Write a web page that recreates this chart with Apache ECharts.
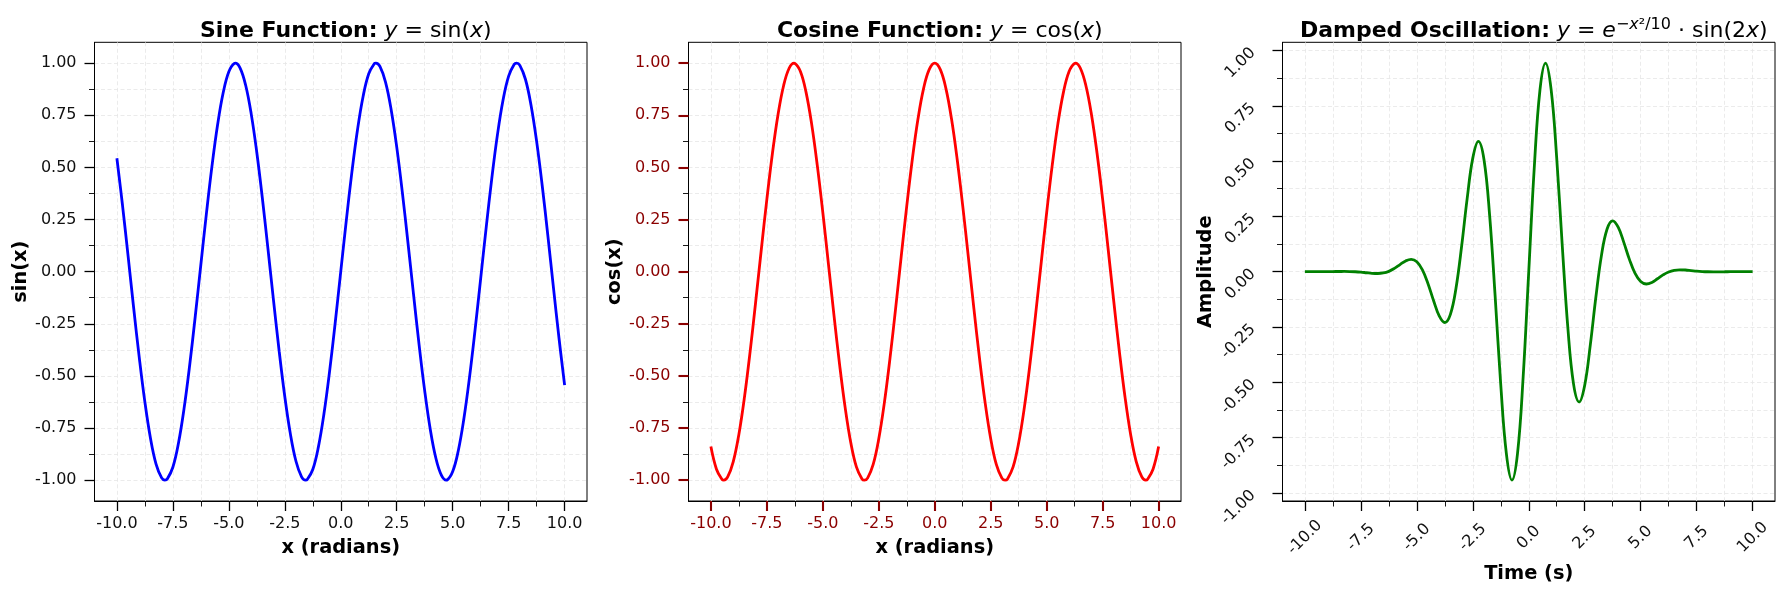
<!DOCTYPE html>
<html><head><meta charset="utf-8">
<script src="https://cdn.jsdelivr.net/npm/echarts@6/dist/echarts.min.js"></script>
<style>html,body{margin:0;padding:0;background:#fff}#c{width:1784px;height:595px}</style>
</head><body><div id="c"></div>
<script>
// ---- data ----
const sinX = [-10,-9.75,-9.5,-9.25,-9,-8.75,-8.5,-8.25,-8,-7.854,-7.75,-7.5,-7.25,-7,-6.75,-6.5,-6.25,-6,-5.75,-5.5,-5.25,-5,-4.75,-4.7124,-4.5,-4.25,-4,-3.75,-3.5,-3.25,-3,-2.75,-2.5,-2.25,-2,-1.75,-1.5708,-1.5,-1.25,-1,-0.75,-0.5,-0.25,0,0.25,0.5,0.75,1,1.25,1.5,1.5708,1.75,2,2.25,2.5,2.75,3,3.25,3.5,3.75,4,4.25,4.5,4.7124,4.75,5,5.25,5.5,5.75,6,6.25,6.5,6.75,7,7.25,7.5,7.75,7.854,8,8.25,8.5,8.75,9,9.25,9.5,9.75,10];
const sinY = [0.5440,0.3195,0.0752,-0.1743,-0.4121,-0.6247,-0.7985,-0.9228,-0.9894,-1,-0.9946,-0.9380,-0.8231,-0.6570,-0.4500,-0.2151,0.0332,0.2794,0.5083,0.7055,0.8589,0.9589,0.9993,1,0.9775,0.8950,0.7568,0.5716,0.3508,0.1082,-0.1411,-0.3817,-0.5985,-0.7781,-0.9093,-0.9840,-1,-0.9975,-0.9490,-0.8415,-0.6816,-0.4794,-0.2474,0,0.2474,0.4794,0.6816,0.8415,0.9490,0.9975,1,0.9840,0.9093,0.7781,0.5985,0.3817,0.1411,-0.1082,-0.3508,-0.5716,-0.7568,-0.8950,-0.9775,-1,-0.9993,-0.9589,-0.8589,-0.7055,-0.5083,-0.2794,-0.0332,0.2151,0.4500,0.6570,0.8231,0.9380,0.9946,1,0.9894,0.9228,0.7985,0.6247,0.4121,0.1743,-0.0752,-0.3195,-0.5440];
const cosX = [-10,-9.75,-9.5,-9.4248,-9.25,-9,-8.75,-8.5,-8.25,-8,-7.75,-7.5,-7.25,-7,-6.75,-6.5,-6.2832,-6.25,-6,-5.75,-5.5,-5.25,-5,-4.75,-4.5,-4.25,-4,-3.75,-3.5,-3.25,-3.1416,-3,-2.75,-2.5,-2.25,-2,-1.75,-1.5,-1.25,-1,-0.75,-0.5,-0.25,0,0.25,0.5,0.75,1,1.25,1.5,1.75,2,2.25,2.5,2.75,3,3.1416,3.25,3.5,3.75,4,4.25,4.5,4.75,5,5.25,5.5,5.75,6,6.25,6.2832,6.5,6.75,7,7.25,7.5,7.75,8,8.25,8.5,8.75,9,9.25,9.4248,9.5,9.75,10];
const cosY = [-0.8391,-0.9476,-0.9972,-1,-0.9848,-0.9111,-0.7807,-0.6020,-0.3857,-0.1455,0.1038,0.3466,0.5679,0.7539,0.8930,0.9766,1,0.9994,0.9602,0.8612,0.7087,0.5121,0.2837,0.0376,-0.2108,-0.4461,-0.6536,-0.8206,-0.9365,-0.9941,-1,-0.9900,-0.9243,-0.8011,-0.6282,-0.4161,-0.1782,0.0707,0.3153,0.5403,0.7317,0.8776,0.9689,1,0.9689,0.8776,0.7317,0.5403,0.3153,0.0707,-0.1782,-0.4161,-0.6282,-0.8011,-0.9243,-0.9900,-1,-0.9941,-0.9365,-0.8206,-0.6536,-0.4461,-0.2108,0.0376,0.2837,0.5121,0.7087,0.8612,0.9602,0.9994,1,0.9766,0.8930,0.7539,0.5679,0.3466,0.1038,-0.1455,-0.3857,-0.6020,-0.7807,-0.9111,-0.9848,-1,-0.9972,-0.9476,-0.8391];
const dampedX = [-10,-9.75,-9.5,-9.25,-9,-8.75,-8.5,-8.25,-8,-7.75,-7.5,-7.25,-7,-6.75,-6.5,-6.25,-6,-5.75,-5.5,-5.25,-5,-4.75,-4.5,-4.25,-4,-3.75,-3.5,-3.25,-3,-2.75,-2.5,-2.25,-2,-1.75,-1.5,-1.25,-1,-0.75,-0.5,-0.25,0,0.25,0.5,0.75,1,1.25,1.5,1.75,2,2.25,2.5,2.75,3,3.25,3.5,3.75,4,4.25,4.5,4.75,5,5.25,5.5,5.75,6,6.25,6.5,6.75,7,7.25,7.5,7.75,8,8.25,8.5,8.75,9,9.25,9.5,9.75,10];
const dampedY = [0,0,0,0.0001,0.0002,0.0005,0.0007,0.0008,0.0005,-0.0005,-0.0023,-0.0049,-0.0074,-0.0084,-0.0061,0.0013,0.0147,0.0321,0.0486,0.0559,0.0447,0.0079,-0.0544,-0.1312,-0.1998,-0.2299,-0.1930,-0.0748,0.1136,0.3312,0.5133,0.5892,0.5073,0.2582,-0.1127,-0.5119,-0.8228,-0.9429,-0.8207,-0.4764,0,0.4764,0.8207,0.9429,0.8228,0.5119,0.1127,-0.2582,-0.5073,-0.5892,-0.5133,-0.3312,-0.1136,0.0748,0.1930,0.2299,0.1998,0.1312,0.0544,-0.0079,-0.0447,-0.0559,-0.0486,-0.0321,-0.0147,-0.0013,0.0061,0.0084,0.0074,0.0049,0.0023,0.0005,-0.0005,-0.0008,-0.0007,-0.0005,-0.0002,-0.0001,0,0,0];
const xTickValues = [-10,-7.5,-5,-2.5,0,2.5,5,7.5,10];
const xMinorValues = [-8.75,-6.25,-3.75,-1.25,1.25,3.75,6.25,8.75];
const yTickValues = [-1,-0.75,-0.5,-0.25,0,0.25,0.5,0.75,1];
const yMinorValues = [-0.875,-0.625,-0.375,-0.125,0.125,0.375,0.625,0.875];
const titleBold = ['Sine Function:', 'Cosine Function:', 'Damped Oscillation:'];
const xNames = ['x (radians)', 'x (radians)', 'Time (s)'];
const yNames = ['sin(x)', 'cos(x)', 'Amplitude'];
const lineColors = ['#0000ff', '#ff0000', '#008000'];

// ---- chart ----
const FONT = 'DejaVu Sans';
const chart = echarts.init(document.getElementById('c'), null, {renderer: 'canvas'});
const rects = [
  {left: 94.5, top: 42.3, width: 492.5, height: 458.7},
  {left: 688.5, top: 42.3, width: 492.5, height: 458.7},
  {left: 1282.5, top: 42.3, width: 492.5, height: 458.7}
];
const yRanges = [[-1.1, 1.1], [-1.1, 1.1], [-1.037, 1.037]];
const cfg = [
  {labelColor: '#111', tickColor: '#000', tickWidth: 1.3, rot: 0},
  {labelColor: '#8b0000', tickColor: '#8b0000', tickWidth: 2.1, rot: 0},
  {labelColor: '#111', tickColor: '#000', tickWidth: 1.3, rot: 45}
];
const gridLine = {show: true, lineStyle: {color: '#e6e6e6', type: [4, 2.5], width: 0.8}};
const nameStyle = {fontFamily: FONT, fontWeight: 'bold', fontSize: 19.4, color: '#000'};

const grid = [], xAxis = [], yAxis = [], series = [], title = [];
for (let i = 0; i < 3; i++) {
  grid.push(Object.assign({show: true, borderColor: '#000', borderWidth: 1, backgroundColor: 'transparent', containLabel: false}, rects[i]));
}
for (let i = 0; i < 3; i++) {
  grid.push(Object.assign({show: false}, rects[i]));
}
for (let i = 0; i < 3; i++) {
  const c = cfg[i];
  xAxis.push({
    type: 'value', gridIndex: i, min: -11, max: 11, position: 'bottom',
    axisLine: {show: true, onZero: false, lineStyle: {color: '#000', width: 1}},
    axisTick: {show: true, customValues: xTickValues, length: 10, lineStyle: {color: c.tickColor, width: c.tickWidth}},
    axisLabel: c.rot ? {
      show: true, customValues: xTickValues, formatter: v => v.toFixed(1), color: c.labelColor,
      fontFamily: FONT, fontSize: 16, rotate: 45, align: 'center', verticalAlign: 'middle', margin: 36.5
    } : {
      show: true, customValues: xTickValues, formatter: v => v.toFixed(1), color: c.labelColor,
      fontFamily: FONT, fontSize: 16, margin: 15
    },
    splitLine: gridLine,
    name: xNames[i], nameLocation: 'middle', nameGap: i === 2 ? 63 : 37, nameTextStyle: nameStyle
  });
  yAxis.push({
    type: 'value', gridIndex: i, min: yRanges[i][0], max: yRanges[i][1], position: 'left',
    axisLine: {show: true, onZero: false, lineStyle: {color: '#000', width: 1}},
    axisTick: {show: true, customValues: yTickValues, length: 10, lineStyle: {color: c.tickColor, width: c.tickWidth}},
    axisLabel: c.rot ? {
      show: true, customValues: yTickValues, formatter: v => v.toFixed(2), color: c.labelColor,
      fontFamily: FONT, fontSize: 16, rotate: 45, align: 'right', verticalAlign: 'middle', margin: 29.5,
      padding: [10, 0, 0, 0]
    } : {
      show: true, customValues: yTickValues, formatter: v => v.toFixed(2), color: c.labelColor,
      fontFamily: FONT, fontSize: 16, margin: 18
    },
    splitLine: gridLine,
    name: yNames[i], nameLocation: 'middle', nameGap: i === 2 ? 65 : 64, nameTextStyle: nameStyle
  });
}
for (let i = 0; i < 3; i++) {
  xAxis.push({
    type: 'value', gridIndex: 3 + i, min: -11, max: 11, position: 'bottom',
    axisLine: {show: false, onZero: false},
    axisTick: {show: true, customValues: xMinorValues, length: 5.5, lineStyle: {color: '#000', width: 0.9}},
    axisLabel: {show: false}, splitLine: gridLine
  });
  yAxis.push({
    type: 'value', gridIndex: 3 + i, min: yRanges[i][0], max: yRanges[i][1], position: 'left',
    axisLine: {show: false, onZero: false},
    axisTick: {show: true, customValues: yMinorValues, length: 5.5, lineStyle: {color: '#000', width: 0.9}},
    axisLabel: {show: false}, splitLine: gridLine
  });
}
const seriesX = [sinX, cosX, dampedX];
const seriesY = [sinY, cosY, dampedY];
for (let i = 0; i < 3; i++) {
  series.push({
    type: 'line', xAxisIndex: i, yAxisIndex: i, showSymbol: false, smooth: 0.4,
    data: seriesX[i].map((x, k) => [x, seriesY[i][k]]),
    lineStyle: {color: lineColors[i], width: 2.8}, itemStyle: {color: lineColors[i]}, z: 5
  });
}
const rich = {
  b: {fontFamily: FONT, fontWeight: 'bold', fontSize: 22, lineHeight: 30, color: '#000'},
  r: {fontFamily: FONT, fontWeight: 'normal', fontSize: 22, lineHeight: 30, color: '#000'},
  i: {fontFamily: FONT, fontWeight: 'normal', fontStyle: 'italic', fontSize: 22, lineHeight: 30, color: '#000'},
  sup: {fontFamily: FONT, fontWeight: 'normal', fontSize: 16, lineHeight: 16, verticalAlign: 'top', color: '#000'},
  supi: {fontFamily: FONT, fontWeight: 'normal', fontStyle: 'italic', fontSize: 16, lineHeight: 16, verticalAlign: 'top', color: '#000'}
};
const titleMath = [
  '{r| }{i|y}{r| = sin(}{i|x}{r|)}',
  '{r| }{i|y}{r| = cos(}{i|x}{r|)}',
  '{r| }{i|y}{r| = }{i|e}{sup|\u2212}{supi|x}{sup|\u00b2/10}{r| \u00b7 sin(2}{i|x}{r|)}'
];
for (let i = 0; i < 3; i++) {
  title.push({
    text: '{b|' + titleBold[i] + '}' + titleMath[i],
    left: rects[i].left + rects[i].width / 2, top: 11.5, textAlign: 'center',
    textStyle: {rich: rich, fontSize: 22, fontFamily: FONT}
  });
}
chart.setOption({
  backgroundColor: '#ffffff', animation: false,
  title, grid, xAxis, yAxis, series
});
</script>
</body></html>
